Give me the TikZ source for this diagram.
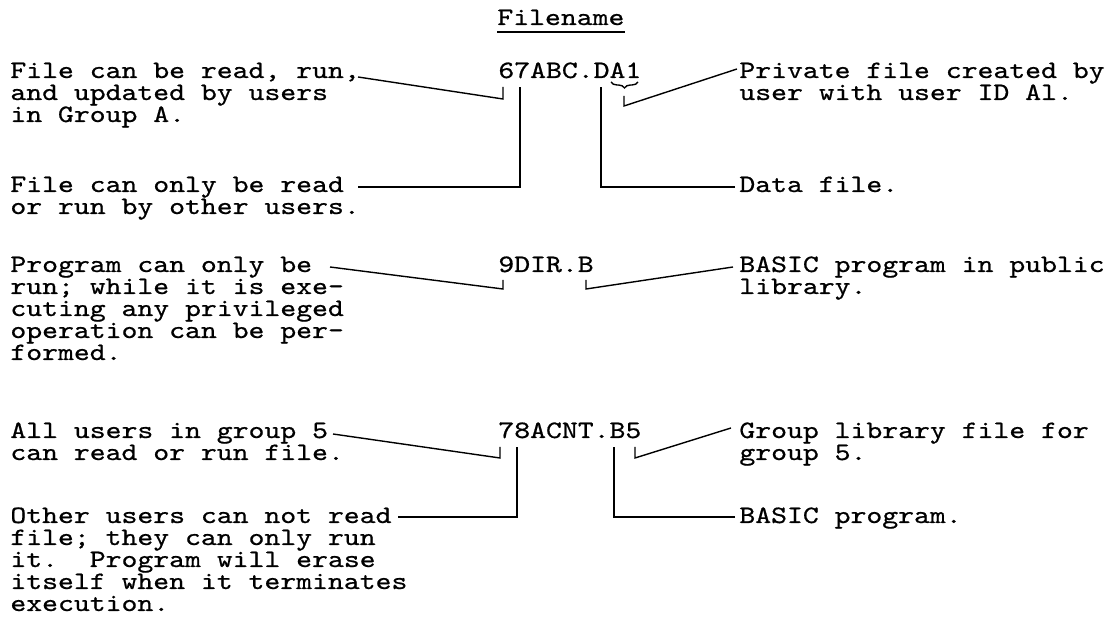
\documentclass[tikz,border=0pt]{standalone}
\usepackage{fontspec}
\newfontfamily\typew[FakeStretch=1.21, FakeBold=0.7]{lmmono10-regular.otf}
\usetikzlibrary{calc,decorations.pathreplacing}
\frenchspacing

\begin{document}
\begin{tikzpicture}[x=0.5pt, y=-0.5pt,
  fname/.style={anchor=base west, inner sep=0pt, font=\typew\fontsize{12.5}{11}\selectfont},
  note/.style={fname, align=left},
  lead/.style={line width=0.7pt}]

  \useasboundingbox (0,0) rectangle (1116,630);

  % Heading
  \node[fname] (ttl) at (497,25) {Filename};
  \draw[lead] ([yshift=-3.5pt]ttl.base west) -- ([yshift=-3.5pt]ttl.base east);

  % The three filenames
  \node[fname] (fa) at (498,78) {67ABC.DA1};
  \node[fname] (fb) at (498,272) {9DIR.B};
  \node[fname] (fc) at (498,438) {78ACNT.B5};

  % Notes on the left (placed by the baseline of their last line)
  \node[note] (a1) at (10,122) {File can be read, run,\\and updated by users\\in Group A.};
  \node[note] (a2) at (10,214) {File can only be read\\or run by other users.};
  \node[note] (b1) at (10,360) {Program can only be\\run; while it is exe-\\cuting any privileged\\operation can be per-\\formed.};
  \node[note] (c1) at (10,460) {All users in group 5\\can read or run file.};
  \node[note] (c2) at (10,611) {Other users can not read\\file; they can only run\\it.\ \ Program will erase\\itself when it terminates\\execution.};

  % Notes on the right
  \node[note] (a3) at (739,100) {Private file created by\\user with user ID Al.};
  \node[note] (a4) at (739,192) {Data file.};
  \node[note] (b2) at (739,294) {BASIC program in public\\library.};
  \node[note] (c3) at (739,460) {Group library file for\\group 5.};
  \node[note] (c4) at (739,523) {BASIC program.};

  % Ends of the lead lines: t- at the note, f- under the filename
  \coordinate (t-a1) at (358,77);  \coordinate (f-a1) at (503,87);
  \coordinate (t-a2) at (358,187); \coordinate (f-a2) at (520,87);
  \coordinate (t-a3) at (737,69);  \coordinate (f-a3) at (624,96);
  \coordinate (t-a4) at (735,187); \coordinate (f-a4) at (601,87);
  \coordinate (t-b1) at (330,267); \coordinate (f-b1) at (503,280);
  \coordinate (t-b2) at (733,267); \coordinate (f-b2) at (586,280);
  \coordinate (t-c1) at (333,434); \coordinate (f-c1) at (500,447);
  \coordinate (t-c2) at (398,517); \coordinate (f-c2) at (517,447);
  \coordinate (t-c3) at (731,428); \coordinate (f-c3) at (635,447);
  \coordinate (t-c4) at (735,517); \coordinate (f-c4) at (614,447);

  % Slanted leads with a short hook
  \foreach \s/\d in {a1/12, a3/10, b1/9, b2/9, c1/11, c3/11}
    \draw[lead] (t-\s) -- ($(f-\s)+(0,\d)$) -- (f-\s);

  % Square leads
  \foreach \s in {a2, a4, c2, c4}
    \draw[lead] (t-\s) -| (f-\s);

  % Brace under the user ID
  \draw[lead, decorate, decoration={brace, mirror, amplitude=3pt}] (611,82) -- (638,82);

\end{tikzpicture}
\end{document}
